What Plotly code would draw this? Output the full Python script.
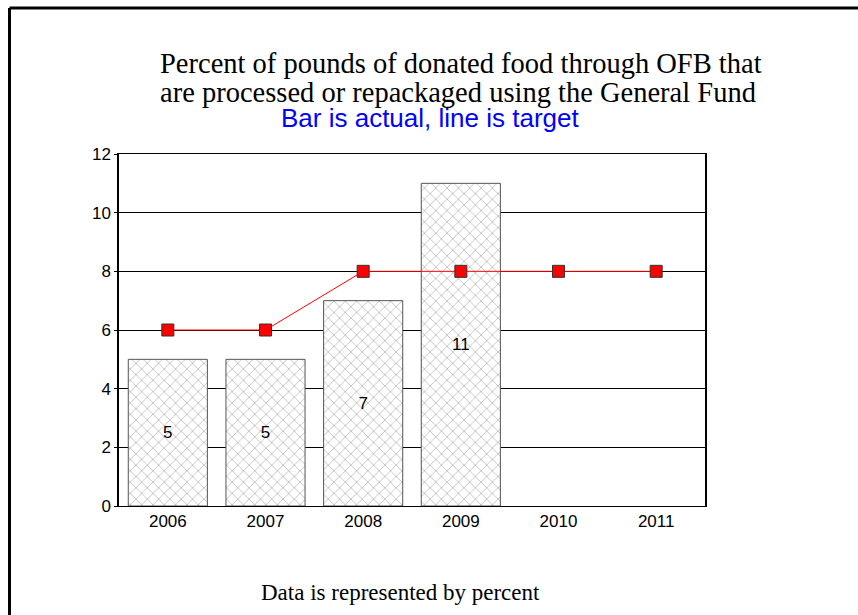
import plotly.graph_objects as go

years = ["2006", "2007", "2008", "2009", "2010", "2011"]
actual = [5, 5, 7, 11, None, None]
target = [6, 6, 8, 8, 8, 8]
bar_labels = ["5", "5", "7", "11", "", ""]

L, R, T, B = 119, 705, 154, 506
W, H = 858, 615

def px(x):
    return (x - L) / (R - L)

def py(y):
    return (B - y) / (B - T)

fig = go.Figure()
fig.add_trace(go.Bar(
    x=years, y=actual, text=bar_labels, textposition="inside",
    insidetextanchor="middle", textangle=0,
    textfont=dict(family="Liberation Sans, Arial", size=17, color="black"),
    marker=dict(color="white", line=dict(color="#555555", width=1),
                pattern=dict(shape="x", fgcolor="#7a7a7a", bgcolor="white", size=8, solidity=0.2)),
    width=0.81, showlegend=False,
))
fig.add_trace(go.Scatter(
    x=years, y=target, mode="lines+markers",
    line=dict(color="#ff0000", width=1),
    marker=dict(symbol="square", size=12, color="#ff0000", line=dict(color="#333333", width=1)),
    showlegend=False,
))

fig.update_layout(
    width=W, height=H,
    margin=dict(l=L, r=W - R, t=T, b=H - B),
    paper_bgcolor="white", plot_bgcolor="white",
    bargap=0.19,
    xaxis=dict(showline=True, linecolor="black", linewidth=1, mirror=True,
               ticks="", showgrid=False, layer="above traces",
               tickfont=dict(family="Liberation Sans, Arial", size=17, color="black")),
    yaxis=dict(range=[0, 12], dtick=2, showline=True, linecolor="black", linewidth=1.5, mirror=True,
               ticks="outside", ticklen=3, tickcolor="black",
               showgrid=True, gridcolor="black", gridwidth=1, layer="above traces",
               zeroline=False,
               tickfont=dict(family="Liberation Sans, Arial", size=17, color="black")),
    font=dict(family="Liberation Sans, Arial"),
    annotations=[
        dict(text="Percent of pounds of donated food through OFB that", x=px(461), y=py(63),
             xref="paper", yref="paper", showarrow=False, xanchor="center", yanchor="middle",
             font=dict(family="Liberation Serif, Times New Roman", size=28.5, color="black")),
        dict(text="are processed or repackaged using the General Fund", x=px(458), y=py(93),
             xref="paper", yref="paper", showarrow=False, xanchor="center", yanchor="middle",
             font=dict(family="Liberation Serif, Times New Roman", size=28.5, color="black")),
        dict(text="Bar is actual, line is target", x=px(430), y=py(118),
             xref="paper", yref="paper", showarrow=False, xanchor="center", yanchor="middle",
             font=dict(family="Liberation Sans, Arial", size=26, color="#0000ff")),
        dict(text="Data is represented by percent", x=px(400), y=py(592),
             xref="paper", yref="paper", showarrow=False, xanchor="center", yanchor="middle",
             font=dict(family="Liberation Serif, Times New Roman", size=23, color="black")),
    ],
    shapes=[
        dict(type="line", xref="paper", yref="paper", x0=px(9.5), x1=px(860), y0=py(8), y1=py(8),
             line=dict(color="black", width=3)),
        dict(type="line", xref="paper", yref="paper", x0=px(9.5), x1=px(9.5), y0=py(8), y1=py(620),
             line=dict(color="black", width=3)),
    ],
)

fig.write_html("out.html")
